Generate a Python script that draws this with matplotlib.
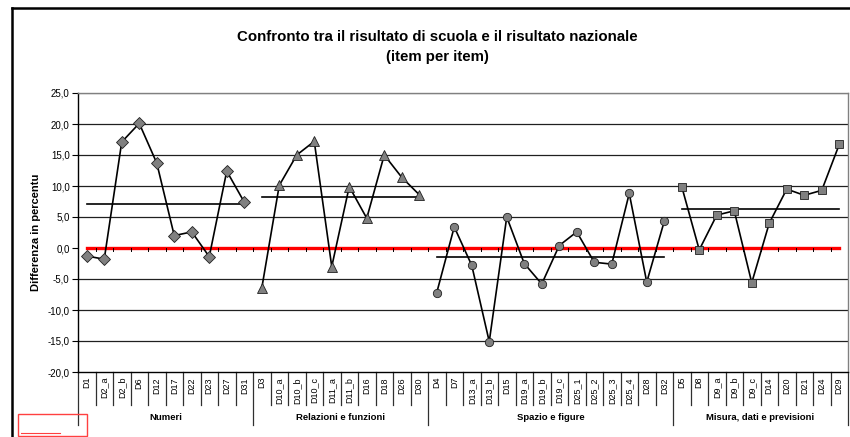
import matplotlib
matplotlib.use("Agg")
import matplotlib.pyplot as plt
from matplotlib.lines import Line2D
from matplotlib.patches import Rectangle
from matplotlib.transforms import blended_transform_factory

plt.rcParams['font.family'] = ['Liberation Sans', 'DejaVu Sans']

# --- data ---
groups = ["Numeri", "Relazioni e funzioni", "Spazio e figure", "Misura, dati e previsioni"]

numeri_items = ["D1", "D2_a", "D2_b", "D6", "D12", "D17", "D22", "D23", "D27", "D31"]
numeri_vals = [-1.3, -1.8, 17.1, 20.1, 13.7, 2.0, 2.6, -1.4, 12.4, 7.4]

relazioni_items = ["D3", "D10_a", "D10_b", "D10_c", "D11_a", "D11_b", "D16", "D18", "D26", "D30"]
relazioni_vals = [-6.5, 10.1, 15.0, 17.2, -3.0, 9.9, 4.8, 15.0, 11.4, 8.6]

spazio_items = ["D4", "D7", "D13_a", "D13_b", "D15", "D19_a", "D19_b", "D19_c",
                "D25_1", "D25_2", "D25_3", "D25_4", "D28", "D32"]
spazio_vals = [-7.2, 3.4, -2.8, -15.1, 5.0, -2.5, -5.8, 0.4,
               2.6, -2.3, -2.6, 8.8, -5.5, 4.3]

misura_items = ["D5", "D8", "D9_a", "D9_b", "D9_c", "D14", "D20", "D21", "D24", "D29"]
misura_vals = [9.9, -0.3, 5.3, 6.0, -5.6, 4.0, 9.5, 8.5, 9.3, 16.7]

group_means = [7.1, 8.3, -1.4, 6.3]
markers = ["D", "^", "o", "s"]
marker_sizes = [6.2, 7, 6, 5.2]

item_lists = [numeri_items, relazioni_items, spazio_items, misura_items]
val_lists = [numeri_vals, relazioni_vals, spazio_vals, misura_vals]

W, H = 850, 437
fig = plt.figure(figsize=(W / 100, H / 100), dpi=100)
ax = fig.add_axes([78 / W, 1 - 372 / H, 770 / W, (372 - 93) / H])

all_items = [it for lst in item_lists for it in lst]
n = len(all_items)

# gridlines
for y in range(-15, 26, 5):
    if y == 0:
        continue
    ax.axhline(y, color="#808080" if y == 25 else "#202020", lw=0.9, zorder=1)

# national reference (zero line)
ax.plot(range(n), [0] * n, color="red", lw=2.4, zorder=2)
# small category ticks on the zero line
for b in range(1, n):
    ax.plot([b - 0.5, b - 0.5], [0, -0.45], color="black", lw=0.7, zorder=2)

start = 0
for items, vals, mean, mk, ms in zip(item_lists, val_lists, group_means, markers, marker_sizes):
    xs = list(range(start, start + len(items)))
    ax.plot([xs[0], xs[-1]], [mean, mean], color="black", lw=1.2, zorder=3)
    ax.plot(xs, vals, color="black", lw=1.2, marker=mk, ms=ms,
            mfc="#808080", mec="#202020", mew=0.6, zorder=4)
    start += len(items)

ax.set_xlim(-0.5, n - 0.5)
ax.set_ylim(-20, 25)
ax.set_yticks(range(-20, 26, 5))
ax.set_yticklabels([f"{v:.1f}".replace(".", ",") for v in range(-20, 26, 5)], fontsize=7)
ax.tick_params(axis="y", direction="out", length=4, width=0.8, pad=2)
ax.set_xticks([])
for s in ["top", "right"]:
    ax.spines[s].set_color("#808080")
    ax.spines[s].set_linewidth(1.0)
ax.spines["left"].set_linewidth(1.0)
ax.spines["bottom"].set_linewidth(1.0)

ax.set_ylabel("Differenza in percentu", fontsize=8, fontweight="bold", labelpad=5)

# category axis below the plot
tr = blended_transform_factory(ax.transData, ax.transAxes)
ph = 372 - 93
short = -33 / ph
long_ = -53 / ph
for i, name in enumerate(all_items):
    ax.text(i, -5 / ph, name, transform=tr, rotation=90, ha="center", va="top",
            fontsize=6.5, clip_on=False)
group_bounds = []
start = 0
for items in item_lists:
    group_bounds.append(start)
    start += len(items)
group_bounds.append(n)
for b in range(0, n + 1):
    y_end = long_ if b in group_bounds else short
    ax.add_line(Line2D([b - 0.5, b - 0.5], [0, y_end], transform=tr,
                       color="#303030", lw=0.9, clip_on=False))
for g, name in enumerate(groups):
    c = (group_bounds[g] + group_bounds[g + 1] - 1) / 2
    ax.text(c, -46 / ph, name, transform=tr, ha="center", va="center",
            fontsize=6.8, fontweight="bold", clip_on=False)

# title
fig.text(437 / W, 1 - 37 / H, "Confronto tra il risultato di scuola e il risultato nazionale",
         ha="center", va="center", fontsize=10.8, fontweight="bold")
fig.text(437 / W, 1 - 57 / H, "(item per item)",
         ha="center", va="center", fontsize=10.8, fontweight="bold")

# outer chart frame
fig.add_artist(Line2D([12 / W, 1], [1 - 8 / H, 1 - 8 / H], color="black", lw=1.8))
fig.add_artist(Line2D([12 / W, 12 / W], [0, 1 - 8 / H], color="black", lw=1.8))

# small red box bottom-left
fig.add_artist(Rectangle((18 / W, 1 - 436 / H), 69 / W, 22 / H, fill=False,
                         edgecolor="#ff4040", lw=1.0, transform=fig.transFigure))
fig.add_artist(Line2D([21 / W, 60 / W], [1 - 433 / H, 1 - 433 / H], color="#ff4040", lw=0.8))

fig.savefig("out.png", dpi=100)
